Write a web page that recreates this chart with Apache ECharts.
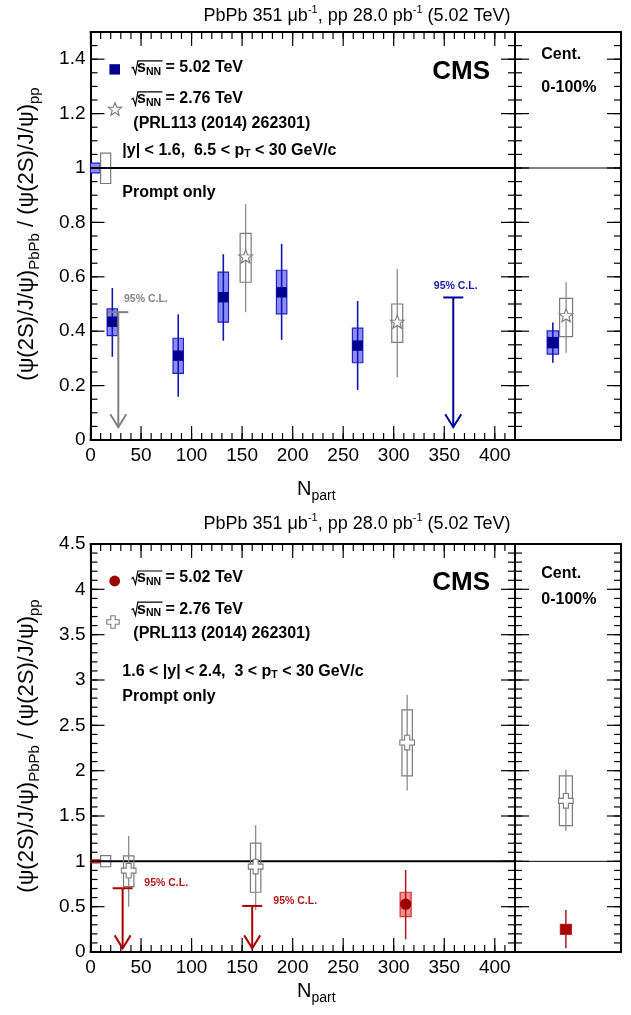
<!DOCTYPE html>
<html><head><meta charset="utf-8">
<script src="https://cdn.jsdelivr.net/npm/echarts@6/dist/echarts.min.js"></script>
<style>html,body{margin:0;padding:0;background:#fff}#c{width:631px;height:1015px}</style>
</head><body><div id="c"></div>
<script>
// ================= DATA =================
// Upper panel: |y| < 1.6, 6.5 < pT < 30 GeV/c
const npartA502  = [21.6, 86.8, 131.4, 189.1, 264.3];
const ratioA502  = [0.435, 0.310, 0.525, 0.543, 0.347];
const statLoA502 = [0.306, 0.159, 0.365, 0.368, 0.184];
const statHiA502 = [0.559, 0.462, 0.683, 0.721, 0.511];
const sysLoA502  = [0.384, 0.245, 0.433, 0.464, 0.284];
const sysHiA502  = [0.482, 0.374, 0.617, 0.624, 0.411];
const limNpartA502 = [358.9];
const limValueA502 = [0.524];

const npartA276  = [153.5, 303.5];
const ratioA276  = [0.672, 0.432];
const statLoA276 = [0.470, 0.231];
const statHiA276 = [0.868, 0.629];
const sysLoA276  = [0.580, 0.359];
const sysHiA276  = [0.760, 0.500];
const limNpartA276 = [27.5];
const limValueA276 = [0.470];

// Cent. 0-100%: [value, statLo, statHi, sysLo, sysHi]
const intA502 = [0.358, 0.284, 0.432, 0.316, 0.401];
const intA276 = [0.456, 0.321, 0.580, 0.380, 0.521];

// pp reference uncertainty boxes at unity: [npartFrom, npartTo, low, high]
const ppRefA502 = [0, 9.5, 0.982, 1.018];
const ppRefA276 = [10, 20, 0.943, 1.055];

// Lower panel: 1.6 < |y| < 2.4, 3 < pT < 30 GeV/c
const npartB502  = [311.8];
const ratioB502  = [0.527];
const statLoB502 = [0.140];
const statHiB502 = [0.905];
const sysLoB502  = [0.390];
const sysHiB502  = [0.659];
const limNpartB502 = [31.8, 160.0];
const limValueB502 = [0.703, 0.508];

const npartB276  = [37.8, 163.4, 313.3];
const ratioB276  = [0.897, 0.942, 2.310];
const statLoB276 = [0.500, 0.464, 1.780];
const statHiB276 = [1.280, 1.398, 2.837];
const sysLoB276  = [0.721, 0.659, 1.943];
const sysHiB276  = [1.060, 1.200, 2.671];

const intB502 = [0.251, 0.041, 0.464, 0.195, 0.306];
const intB276 = [1.667, 1.336, 2.009, 1.394, 1.943];

const ppRefB502 = [0, 9.5, 0.984, 1.016];
const ppRefB276 = [10, 20, 0.940, 1.062];

// arrow tips of the 95% C.L. upper limits
const arrowEndA = 0.047;
const arrowEndB = 0.040;

// tick labels / major ticks
const xTicks  = [0, 50, 100, 150, 200, 250, 300, 350, 400];
const yTicksA = [0, 0.2, 0.4, 0.6, 0.8, 1, 1.2, 1.4];
const yTicksB = [0, 0.5, 1, 1.5, 2, 2.5, 3, 3.5, 4, 4.5];
// minor tick steps
const xMinorStep = 10, yMinorStepA = 0.05, yMinorStepB = 0.1;

// ================= STYLE / LAYOUT =================
const FONT = '"Liberation Sans", Arial, Helvetica, sans-serif';
const K = '#000';
const GRIDS = [
  {left: 90.5, top: 32, width: 424.5, height: 408},
  {left: 515, top: 32, width: 106, height: 408},
  {left: 90.5, top: 544, width: 424.5, height: 408},
  {left: 515, top: 544, width: 106, height: 408}
];
const SLOT_A502 = 0.357, SLOT_A276 = 0.482, SLOT_B = 0.48;
const MAJOR_LEN = 14, MINOR_LEN = 7;

function ax(g, pos, min, max, labelValues) {
  return {
    type: 'value', gridIndex: g, position: pos, min: min, max: max,
    splitLine: {show: false}, splitArea: {show: false},
    axisLine: {show: true, onZero: false, lineStyle: {color: K, width: 2}},
    axisTick: {show: false}, minorTick: {show: false},
    axisLabel: labelValues ? {show: true, customValues: labelValues,
      color: K, fontFamily: FONT, fontSize: 19, margin: pos === 'bottom' ? 6 : 5} : {show: false}
  };
}

const xAxes = [
  ax(0, 'bottom', 0, 420, xTicks), ax(0, 'top', 0, 420, null),
  ax(1, 'bottom', 0, 1, null), ax(1, 'top', 0, 1, null),
  ax(2, 'bottom', 0, 420, xTicks), ax(2, 'top', 0, 420, null),
  ax(3, 'bottom', 0, 1, null), ax(3, 'top', 0, 1, null)
];
const yAxes = [
  ax(0, 'left', 0, 1.5, yTicksA), ax(0, 'right', 0, 1.5, null),
  ax(1, 'left', 0, 1.5, null), ax(1, 'right', 0, 1.5, null),
  ax(2, 'left', 0, 4.5, yTicksB), ax(2, 'right', 0, 4.5, null),
  ax(3, 'left', 0, 4.5, null), ax(3, 'right', 0, 4.5, null)
];

// tick marks drawn through the axes' scales (inside, on all framed sides)
function steps(max, step) {
  const out = [];
  for (let i = 0; i * step <= max + 1e-9; i++) out.push(+(i * step).toFixed(4));
  return out;
}
function tickData(xMajor, xMinor, yMajor, yMinor) {
  const d = [];
  xMinor.forEach(v => d.push([v, 0, MINOR_LEN, 0]));
  xMajor.forEach(v => d.push([v, 0, MAJOR_LEN, 0]));
  yMinor.forEach(v => d.push([0, v, MINOR_LEN, 1]));
  yMajor.forEach(v => d.push([0, v, MAJOR_LEN, 1]));
  return d;
}
function tickRender(params, api) {
  const cs = params.coordSys;
  const len = api.value(2);
  const st = {stroke: K, lineWidth: 1.2};
  if (api.value(3) === 0) {
    const x = api.coord([api.value(0), 0])[0];
    return {type: 'group', children: [
      {type: 'line', shape: {x1: x, y1: cs.y + cs.height, x2: x, y2: cs.y + cs.height - len}, style: st},
      {type: 'line', shape: {x1: x, y1: cs.y, x2: x, y2: cs.y + len}, style: st}
    ]};
  }
  const y = api.coord([0, api.value(1)])[1];
  return {type: 'group', children: [
    {type: 'line', shape: {x1: cs.x, y1: y, x2: cs.x + len, y2: y}, style: st},
    {type: 'line', shape: {x1: cs.x + cs.width, y1: y, x2: cs.x + cs.width - len, y2: y}, style: st}
  ]};
}
function ticks(xi, yi, data) {
  return {type: 'custom', xAxisIndex: xi, yAxisIndex: yi, renderItem: tickRender, data: data, z: 2, silent: true, clip: false};
}

const ST_BLUE = {half: 5.2, fill: '#8c8cf7', stroke: '#2020c0', stat: '#1414b4', statW: 1.6,
  marker: 'square', mw: 10.4, mh: 10.4, mfill: '#000090'};
const ST_BLUE_INT = Object.assign({}, ST_BLUE, {half: 5.7, mw: 11.4, mh: 11.4});
const ST_STAR = {half: 5.5, fill: 'none', stroke: '#7a7a7a', stat: '#8a8a8a', statW: 1.3,
  marker: 'star', size: 7.2, mstroke: '#7a7a7a'};
const ST_STAR_INT = Object.assign({}, ST_STAR, {half: 6.5});
const ST_RED = {half: 5.5, fill: '#f39090', stroke: '#d03030', stat: '#b01818', statW: 1.5,
  marker: 'circle', r: 5.6, mfill: '#9a0000'};
const ST_RED_INT = Object.assign({}, ST_RED, {marker: 'square', mw: 11, mh: 10, mfill: '#a80000'});
const ST_CROSS = {half: 5.2, fill: 'none', stroke: '#7a7a7a', stat: '#8a8a8a', statW: 1.3,
  marker: 'cross', size: 7.3, arm: 2.5, mstroke: '#7a7a7a'};
const ST_CROSS_INT = Object.assign({}, ST_CROSS, {half: 6.5});

function starPts(cx, cy, ro) {
  const ri = ro * 0.42, p = [];
  for (let k = 0; k < 10; k++) {
    const a = -Math.PI / 2 + k * Math.PI / 5, r = k % 2 ? ri : ro;
    p.push([cx + r * Math.cos(a), cy + r * Math.sin(a)]);
  }
  return p;
}
function crossPts(cx, cy, L, a) {
  return [[-a,-L],[a,-L],[a,-a],[L,-a],[L,a],[a,a],[a,L],[-a,L],[-a,a],[-L,a],[-L,-a],[-a,-a]]
    .map(q => [cx + q[0], cy + q[1]]);
}
function markerEl(st, c) {
  if (st.marker === 'square')
    return {type: 'rect', shape: {x: c[0] - st.mw / 2, y: c[1] - st.mh / 2, width: st.mw, height: st.mh}, style: {fill: st.mfill}};
  if (st.marker === 'circle')
    return {type: 'circle', shape: {cx: c[0], cy: c[1], r: st.r}, style: {fill: st.mfill}};
  if (st.marker === 'star')
    return {type: 'polygon', shape: {points: starPts(c[0], c[1], st.size)}, style: {fill: '#fff', stroke: st.mstroke, lineWidth: 1.1}};
  return {type: 'polygon', shape: {points: crossPts(c[0], c[1], st.size, st.arm)}, style: {fill: '#fff', stroke: st.mstroke, lineWidth: 1.1}};
}
function pointRender(st) {
  return function (params, api) {
    const x = api.value(0);
    const c = api.coord([x, api.value(1)]);
    const s0 = api.coord([x, api.value(2)]), s1 = api.coord([x, api.value(3)]);
    const b0 = api.coord([x, api.value(4)]), b1 = api.coord([x, api.value(5)]);
    return {type: 'group', children: [
      {type: 'rect', shape: {x: c[0] - st.half, y: b1[1], width: 2 * st.half, height: b0[1] - b1[1]},
        style: {fill: st.fill, stroke: st.stroke, lineWidth: 1.2}},
      {type: 'line', shape: {x1: c[0], y1: s0[1], x2: c[0], y2: s1[1]}, style: {stroke: st.stat, lineWidth: st.statW}},
      markerEl(st, c)
    ]};
  };
}
function limitRender(color, tipValue) {
  return function (params, api) {
    const x = api.value(0);
    const t = api.coord([x, api.value(1)]);
    const e = api.coord([x, tipValue]);
    const ls = {stroke: color, lineWidth: 2, fill: 'none'};
    return {type: 'group', children: [
      {type: 'line', shape: {x1: t[0], y1: t[1], x2: e[0], y2: e[1]}, style: ls},
      {type: 'line', shape: {x1: t[0] - 10, y1: t[1], x2: t[0] + 10, y2: t[1]}, style: ls},
      {type: 'polyline', shape: {points: [[e[0] - 8, e[1] - 13], [e[0], e[1]], [e[0] + 8, e[1] - 13]]}, style: ls}
    ]};
  };
}
function refRender(fill, stroke) {
  return function (params, api) {
    const p0 = api.coord([api.value(0), api.value(3)]);
    const p1 = api.coord([api.value(1), api.value(2)]);
    return {type: 'rect', shape: {x: p0[0], y: p0[1], width: p1[0] - p0[0], height: p1[1] - p0[1]},
      style: {fill: fill, stroke: stroke, lineWidth: 1.2}};
  };
}
const zip = (...arrs) => arrs[0].map((_, i) => arrs.map(a => a[i]));

function pts(xi, yi, st, data) {
  return {type: 'custom', xAxisIndex: xi, yAxisIndex: yi, renderItem: pointRender(st), data: data, z: 5, silent: true, clip: false};
}
function lims(xi, yi, color, tip, data) {
  return {type: 'custom', xAxisIndex: xi, yAxisIndex: yi, renderItem: limitRender(color, tip), data: data, z: 6, silent: true, clip: false};
}
function refs(xi, yi, fill, stroke, box) {
  return {type: 'custom', xAxisIndex: xi, yAxisIndex: yi, renderItem: refRender(fill, stroke), data: [box], z: 3, silent: true};
}
function unity(xi, yi, xmax, w) {
  return {type: 'line', xAxisIndex: xi, yAxisIndex: yi, data: [[0, 1], [xmax, 1]], symbol: 'none',
    lineStyle: {color: K, width: w}, z: 4, silent: true, animation: false};
}

const series = [
  // tick marks
  ticks(0, 0, tickData(xTicks, steps(420, xMinorStep), yTicksA, steps(1.5, yMinorStepA))),
  ticks(2, 2, tickData([], [], yTicksA, steps(1.5, yMinorStepA))),
  ticks(4, 4, tickData(xTicks, steps(420, xMinorStep), yTicksB, steps(4.5, yMinorStepB))),
  ticks(6, 6, tickData([], [], yTicksB, steps(4.5, yMinorStepB))),
  // upper main
  refs(0, 0, '#8c8cf7', '#2020c0', ppRefA502),
  refs(0, 0, 'none', '#7a7a7a', ppRefA276),
  unity(0, 0, 420, 2),
  pts(0, 0, ST_BLUE, zip(npartA502, ratioA502, statLoA502, statHiA502, sysLoA502, sysHiA502)),
  pts(0, 0, ST_STAR, zip(npartA276, ratioA276, statLoA276, statHiA276, sysLoA276, sysHiA276)),
  lims(0, 0, '#7f7f7f', arrowEndA, zip(limNpartA276, limValueA276)),
  lims(0, 0, '#000099', arrowEndA, zip(limNpartA502, limValueA502)),
  // upper right
  unity(2, 2, 1, 1),
  pts(2, 2, ST_BLUE_INT, [[SLOT_A502].concat(intA502)]),
  pts(2, 2, ST_STAR_INT, [[SLOT_A276].concat(intA276)]),
  // lower main
  refs(4, 4, '#f39090', '#b01818', ppRefB502),
  refs(4, 4, 'none', '#7a7a7a', ppRefB276),
  unity(4, 4, 420, 2),
  pts(4, 4, ST_CROSS, zip(npartB276, ratioB276, statLoB276, statHiB276, sysLoB276, sysHiB276)),
  pts(4, 4, ST_RED, zip(npartB502, ratioB502, statLoB502, statHiB502, sysLoB502, sysHiB502)),
  lims(4, 4, '#a80000', arrowEndB, zip(limNpartB502, limValueB502)),
  // lower right
  unity(6, 6, 1, 1),
  pts(6, 6, ST_CROSS_INT, [[SLOT_B].concat(intB276)]),
  pts(6, 6, ST_RED_INT, [[SLOT_B].concat(intB502)])
];

// ================= TEXT / LEGEND GRAPHICS =================
function txt(x, y, text, rich, align, extra) {
  return Object.assign({type: 'text', x: x, y: y, silent: true,
    style: {text: text, rich: rich, align: align || 'left', verticalAlign: 'middle', fill: K, fontFamily: FONT}}, extra || {});
}
function plain(x, y, text, size, color, align, bold) {
  return {type: 'text', x: x, y: y, silent: true, style: {text: text, fontSize: size, fontWeight: bold ? 'bold' : 'normal',
    fontFamily: FONT, fill: color, align: align, verticalAlign: 'middle'}};
}
const B16 = {fontSize: 16, lineHeight: 16, fontWeight: 'bold', fontFamily: FONT, fill: K};
const SUB10 = {fontSize: 10.5, lineHeight: 10, fontWeight: 'bold', fontFamily: FONT, fill: K, padding: [8, 0, 0, 0]};
const richLeg = {b: B16, n: SUB10};
const richTitle = {t: {fontSize: 18, lineHeight: 18, fontFamily: FONT, fill: K},
  u: {fontSize: 11, lineHeight: 11, fontFamily: FONT, fill: K, padding: [0, 0, 12, 0]}};
const richY = {m: {fontSize: 22, lineHeight: 22, fontFamily: FONT, fill: K},
  s: {fontSize: 15, lineHeight: 15, fontFamily: FONT, fill: K, padding: [15, 0, 0, 0]}};
const richN = {m: {fontSize: 20, lineHeight: 20, fontFamily: FONT, fill: K},
  s: {fontSize: 14, lineHeight: 14, fontFamily: FONT, fill: K, padding: [14, 0, 0, 0]}};

function radical(x0, yc, yTop, xEnd) {
  return {type: 'polyline', silent: true, shape: {points: [[x0, yc + 0.5], [x0 + 1.6, yc - 0.6], [x0 + 4, yc + 6.2], [x0 + 6.4, yTop], [xEnd, yTop]]},
    style: {stroke: K, lineWidth: 1.2, fill: 'none'}};
}
function legendBlock(y1, y2, y3) {
  return [
    radical(131.5, y1, y1 - 7, 162.5),
    txt(137, y1, '{b|s}{n|NN}{b| = 5.02 TeV}', richLeg),
    radical(131.5, y2, y2 - 7, 162.5),
    txt(137, y2, '{b|s}{n|NN}{b| = 2.76 TeV}', richLeg),
    txt(133.3, y3, '{b|(PRL113 (2014) 262301)}', richLeg)
  ];
}
const TITLE = '{t|PbPb 351 μb}{u|-1}{t|, pp 28.0 pb}{u|-1}{t| (5.02 TeV)}';
const YTITLE = '{m|(ψ(2S)/J/ψ)}{s|PbPb}{m| / (ψ(2S)/J/ψ)}{s|pp}';

const graphics = [
  txt(357, 16, TITLE, richTitle, 'center'),
  txt(357, 524, TITLE, richTitle, 'center'),
  txt(27, 234, YTITLE, richY, 'center', {rotation: Math.PI / 2}),
  txt(27, 746, YTITLE, richY, 'center', {rotation: Math.PI / 2}),
  txt(297, 489, '{m|N}{s|part}', richN),
  txt(297, 991, '{m|N}{s|part}', richN),
  // upper legend
  {type: 'rect', silent: true, shape: {x: 109.4, y: 64.2, width: 10.6, height: 10.4}, style: {fill: '#000090'}},
  {type: 'polygon', silent: true, shape: {points: starPts(115, 109.5, 7)}, style: {fill: '#fff', stroke: '#7a7a7a', lineWidth: 1.1}},
  ...legendBlock(67.8, 98.9, 123.3),
  txt(122.3, 150.5, '{b||y| < 1.6,  6.5 < p}{n|T}{b| < 30 GeV/c}', richLeg),
  txt(122.3, 192.5, '{b|Prompt only}', richLeg),
  plain(490, 72, 'CMS', 26, K, 'right', true),
  txt(541.3, 55, '{b|Cent.}', richLeg),
  txt(541.3, 88, '{b|0-100%}', richLeg),
  plain(124, 299.5, '95% C.L.', 10.5, '#858585', 'left', true),
  plain(455.7, 285.7, '95% C.L.', 10.5, '#1a1aa6', 'center', true),
  // lower legend
  {type: 'circle', silent: true, shape: {cx: 114.7, cy: 581, r: 5.4}, style: {fill: '#9a0000'}},
  {type: 'polygon', silent: true, shape: {points: crossPts(113, 622, 6.2, 2.2)}, style: {fill: '#fff', stroke: '#7a7a7a', lineWidth: 1.1}},
  ...legendBlock(578, 609.2, 633.4),
  txt(122.3, 671.3, '{b|1.6 < |y| < 2.4,  3 < p}{n|T}{b| < 30 GeV/c}', richLeg),
  txt(122.3, 697, '{b|Prompt only}', richLeg),
  plain(490, 582.5, 'CMS', 26, K, 'right', true),
  txt(541.3, 574, '{b|Cent.}', richLeg),
  txt(541.3, 600, '{b|0-100%}', richLeg),
  plain(144.3, 882.7, '95% C.L.', 10.5, '#b01818', 'left', true),
  plain(273.3, 900.7, '95% C.L.', 10.5, '#b01818', 'left', true)
];

const chart = echarts.init(document.getElementById('c'), null, {renderer: 'canvas'});
chart.setOption({
  animation: false,
  backgroundColor: '#fff',
  grid: GRIDS,
  xAxis: xAxes,
  yAxis: yAxes,
  series: series,
  graphic: {elements: graphics}
});
</script>
</body></html>
